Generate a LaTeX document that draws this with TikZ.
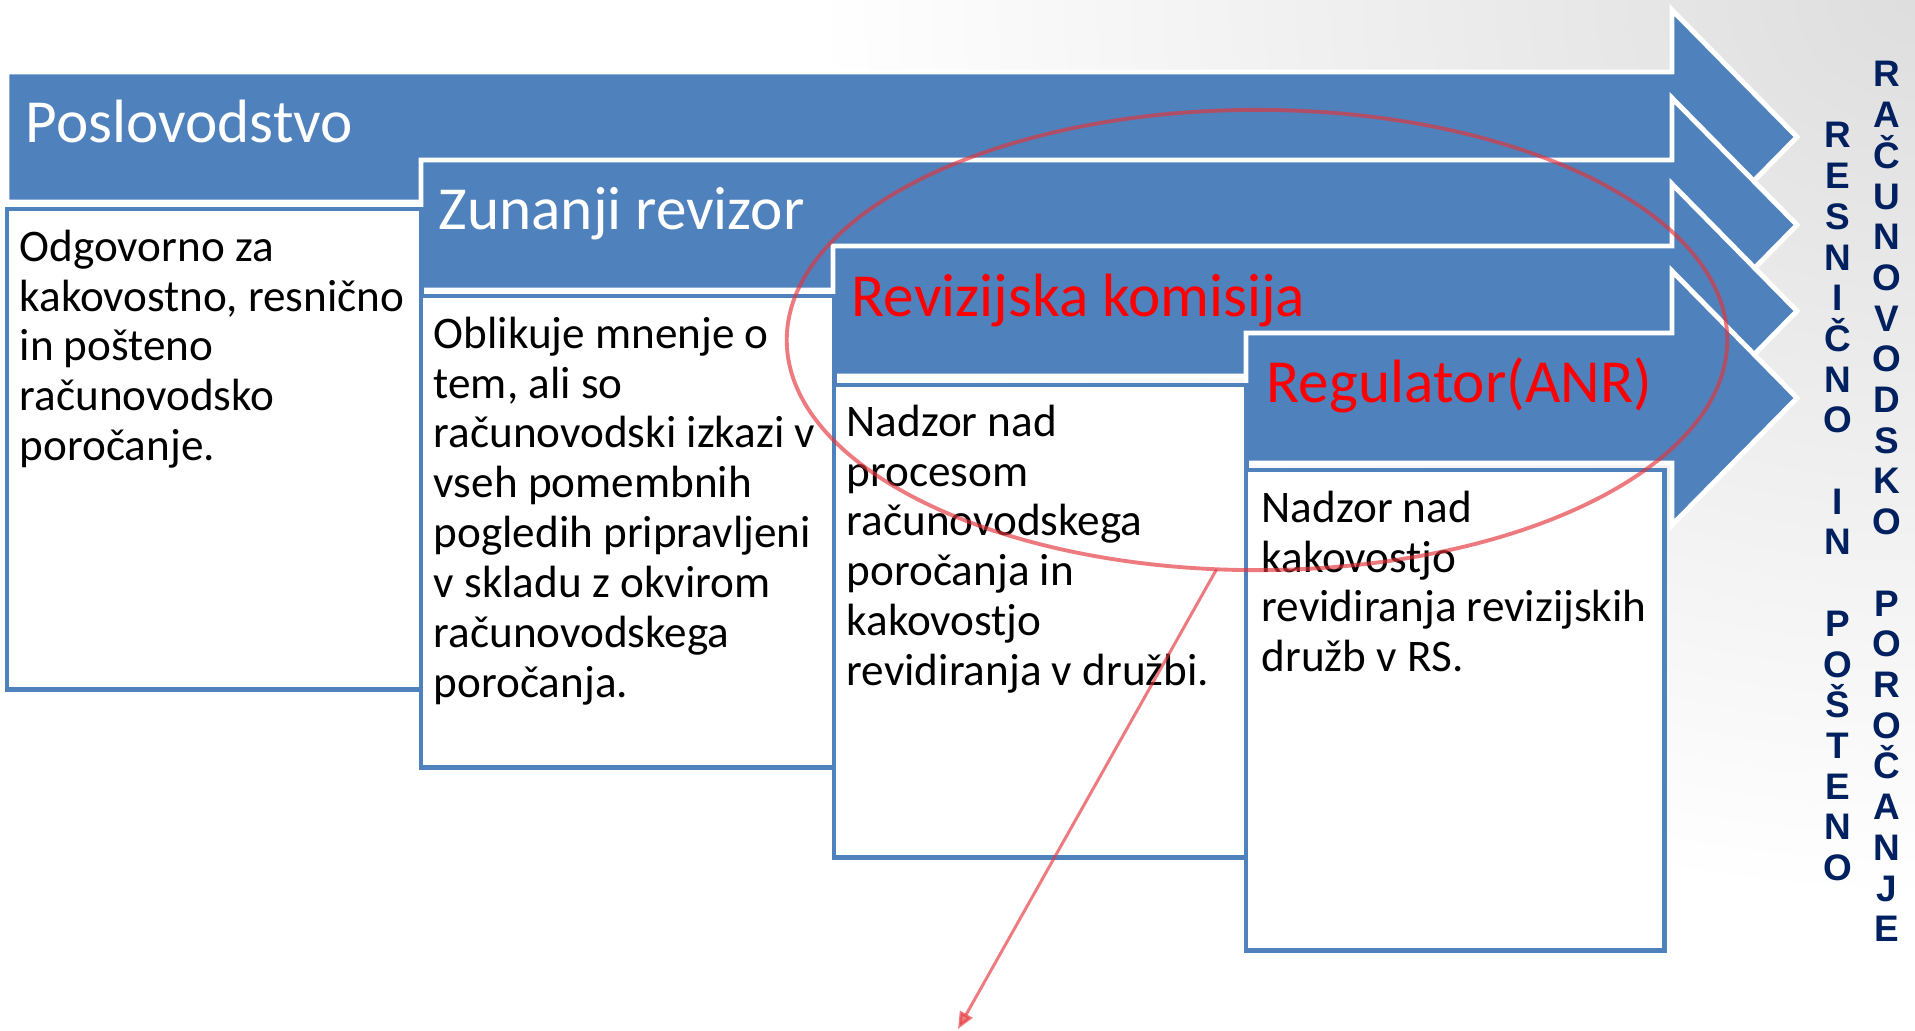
\documentclass[tikz,border=0pt]{standalone}
\usepackage{fontspec}
\setmainfont{Carlito}
\newfontfamily\crkovje{Liberation Sans}
\usepackage{xcolor}
\usepackage{tikz}
\usetikzlibrary{arrows.meta, positioning, shapes.geometric}
\definecolor{smartmodra}{RGB}{79,129,189}
\definecolor{temnomodra}{RGB}{0,32,96}
\definecolor{oznacba}{RGB}{228,52,58}

\begin{document}
\begin{tikzpicture}[
    x=0.01cm, y=-0.01cm,
    puscica/.style={fill=smartmodra, draw=white, line width=1.4pt},
    glava/.style={anchor=base west, inner sep=0pt, font=\fontsize{17.4}{20}\selectfont},
    opis/.style={draw=smartmodra, fill=white, line width=1.4pt, anchor=north west,
                 inner sep=0pt, outer sep=0pt},
    besedilo/.style={inner sep=0pt, align=left, font=\fontsize{12.85}{14.2}\selectfont},
    crka/.style={anchor=base, inner sep=0pt, text=temnomodra,
                 font=\crkovje\bfseries\fontsize{10.5}{12}\selectfont},
    oznaka/.style={draw=oznacba, opacity=0.65, line width=1.1pt}
  ]
    \useasboundingbox (0,0) rectangle (1915,1031);
    \begin{scope}
      \clip (0,0) rectangle (1915,1031);
      \shade[inner color=black!13, outer color=white] (1915,0) ellipse (11cm and 9cm);
    \end{scope}
    % puscice se stopnicasto spuscajo, konice so vse pri x = 1797
    \foreach \xl/\yt in {7/72, 421/160, 833/246, 1246/333} {
      \draw[puscica] (\xl,\yt) -- (1672,\yt) -- (1672,\yt-62) -- (1797,\yt+65)
        -- (1672,\yt+192) -- (1672,\yt+130) -- (\xl,\yt+130) -- cycle;
    }
    \node[opis, minimum width=4.14cm, minimum height=4.80cm] (okvir1) at (7,209) {};
    \node[opis, minimum width=4.13cm, minimum height=4.71cm] (okvir2) at (421,296) {};
    \node[opis, minimum width=4.12cm, minimum height=4.72cm] (okvir3) at (834,385) {};
    \node[opis, minimum width=4.18cm, minimum height=4.80cm] (okvir4) at (1246,470) {};
    \node[glava, text=white] (poslovodstvo) at (25,143) {Poslovodstvo};
    \node[glava, text=white] (revizor) at (438,230) {Zunanji revizor};
    \node[glava, text=red] (komisija) at (851,317) {Revizijska komisija};
    \node[glava, text=red] (regulator) at (1266,403) {Regulator(ANR)};
    \node[besedilo, below right=0.20cm and 0.12cm of okvir1.north west] (opis1)
      {Odgovorno za\\kakovostno, resnično\\in pošteno\\računovodsko\\poročanje.};
    \node[besedilo, below right=0.20cm and 0.12cm of okvir2.north west] (opis2)
      {Oblikuje mnenje o\\tem, ali so\\računovodski izkazi v\\vseh pomembnih\\pogledih pripravljeni\\v skladu z okvirom\\računovodskega\\poročanja.};
    \node[besedilo, below right=0.19cm and 0.12cm of okvir3.north west] (opis3)
      {Nadzor nad\\procesom\\računovodskega\\poročanja in\\kakovostjo\\revidiranja v družbi.};
    \node[besedilo, below right=0.20cm and 0.15cm of okvir4.north west] (opis4)
      {Nadzor nad\\kakovostjo\\revidiranja revizijskih\\družb v RS.};
    \node[ellipse, oznaka, minimum width=9.40cm, minimum height=4.60cm,
          inner sep=0pt, outer sep=0pt] (krog) at (1257,340) {};
    \coordinate (konec) at (958,1029);
    \draw[oznaka, line width=0.85pt, -{Triangle[length=0.17cm, width=0.14cm]}] (krog.260) -- (konec);
    \foreach \crk [count=\i from 0] in {R,A,Č,U,N,O,V,O,D,S,K,O}
      \node[crka] (ra\i) at (1887,87+40.7*\i) {\crk};
    \foreach \crk [count=\i from 13] in {P,O,R,O,Č,A,N,J,E}
      \node[crka] (po\i) at (1887,87+40.7*\i) {\crk};
    \foreach \crk [count=\i from 0] in {R,E,S,N,I,Č,N,O}
      \node[crka] (re\i) at (1838,148+40.7*\i) {\crk};
    \foreach \crk [count=\i from 9] in {I,N}
      \node[crka] (in\i) at (1838,148+40.7*\i) {\crk};
    \foreach \crk [count=\i from 12] in {P,O,Š,T,E,N,O}
      \node[crka] (pos\i) at (1838,148+40.7*\i) {\crk};
  \end{tikzpicture}
\end{document}
